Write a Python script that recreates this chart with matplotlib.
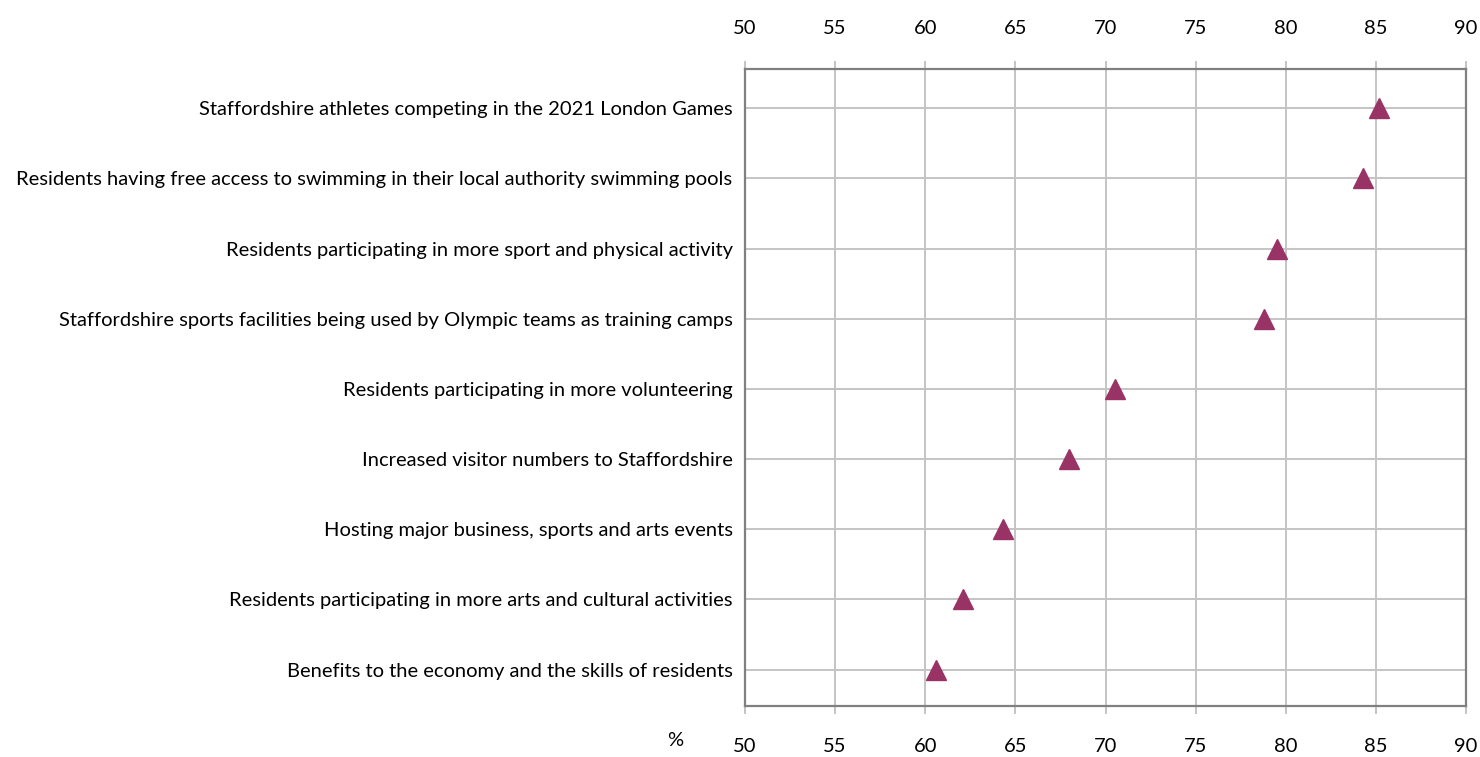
import matplotlib.pyplot as plt

plt.rcParams['font.family'] = ['Lato', 'DejaVu Sans']

categories = [
    "Staffordshire athletes competing in the 2021 London Games",
    "Residents having free access to swimming in their local authority swimming pools",
    "Residents participating in more sport and physical activity",
    "Staffordshire sports facilities being used by Olympic teams as training camps",
    "Residents participating in more volunteering",
    "Increased visitor numbers to Staffordshire",
    "Hosting major business, sports and arts events",
    "Residents participating in more arts and cultural activities",
    "Benefits to the economy and the skills of residents",
]
values = [85.2, 84.3, 79.5, 78.8, 70.5, 68.0, 64.3, 62.1, 60.6]
xticks = [50, 55, 60, 65, 70, 75, 80, 85, 90]

fig = plt.figure(figsize=(14.8, 7.57), dpi=100)
ax = fig.add_axes([745/1480, 1 - 706/757, (1466-745)/1480, (706-69)/757])

ypos = list(range(len(categories)))
ax.plot(values, ypos, linestyle='none', marker='^', markersize=15,
        color='#993366', zorder=3, clip_on=False)

ax.set_xlim(50, 90)
ax.set_ylim(8.52, -0.56)
ax.set_xticks(xticks)
ax.set_yticks(ypos)
ax.set_yticklabels(categories, fontsize=14.5)

ax.grid(True, color='#c4c4c4', linewidth=1.4)
ax.set_axisbelow(True)

for s in ax.spines.values():
    s.set_color('#808080')
    s.set_linewidth(1.6)

ax.tick_params(axis='x', top=True, labeltop=True, bottom=True, labelbottom=True,
               direction='out', length=6, width=1.4, color='#c4c4c4',
               pad=17, labelsize=14.5)
ax.tick_params(axis='y', length=0, pad=9)

fig.text(675/1480, 1 - 740/757, '%', fontsize=14.5, ha='center', va='center')

fig.savefig('out.png', dpi=100)
